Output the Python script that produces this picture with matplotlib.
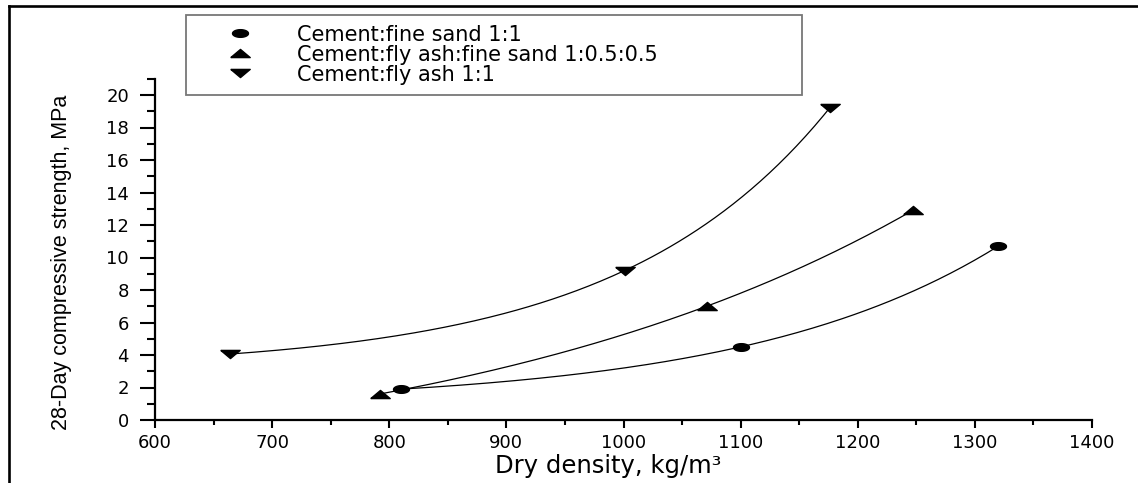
import matplotlib
matplotlib.use("Agg")
import matplotlib.pyplot as plt
import numpy as np
from matplotlib.lines import Line2D
from matplotlib.ticker import MultipleLocator

# data
sand_density = [810, 1100, 1320]
sand_strength = [1.9, 4.5, 10.7]

flyash_sand_density = [792, 1071, 1247]
flyash_sand_strength = [1.6, 7.0, 12.9]

flyash_density = [664, 1001, 1176]
flyash_strength = [4.06, 9.2, 19.2]

series_labels = ["Cement:fine sand 1:1",
                 "Cement:fly ash:fine sand 1:0.5:0.5",
                 "Cement:fly ash 1:1"]

x_ticks = [600, 700, 800, 900, 1000, 1100, 1200, 1300, 1400]
y_ticks = [0, 2, 4, 6, 8, 10, 12, 14, 16, 18, 20]

W, H = 1138, 483


def exp_growth_fit(x, y):
    """y = y0 + A*exp(b*x) through three points (solve b by bisection)."""
    x = np.asarray(x, float)
    y = np.asarray(y, float)
    target = (y[2] - y[1]) / (y[1] - y[0])

    def ratio(b):
        e = np.exp(b * (x - x[0]))
        return (e[2] - e[1]) / (e[1] - e[0])

    lo, hi = 1e-7, 0.05
    for _ in range(200):
        mid = 0.5 * (lo + hi)
        if ratio(mid) < target:
            lo = mid
        else:
            hi = mid
    b = 0.5 * (lo + hi)
    e = np.exp(b * (x - x[0]))
    A = (y[1] - y[0]) / (e[1] - e[0])
    y0 = y[0] - A * e[0]
    xs = np.linspace(x.min(), x.max(), 200)
    return xs, y0 + A * np.exp(b * (xs - x[0]))


# flattened markers (the original picture is stretched sideways)
t = np.linspace(0, 2 * np.pi, 41)
ellipse = list(zip(np.cos(t), 0.48 * np.sin(t)))
tri_up = [(-1, -0.42), (1, -0.42), (0, 0.42), (-1, -0.42)]
tri_down = [(-1, 0.42), (1, 0.42), (0, -0.42), (-1, 0.42)]

plt.rcParams['font.family'] = ['DejaVu Sans']

fig = plt.figure(figsize=(W / 100, H / 100), dpi=100)
ax = fig.add_axes([155 / W, 63 / H, 937 / W, 341.25 / H])

series = [
    (sand_density, sand_strength, ellipse, 11.5),
    (flyash_sand_density, flyash_sand_strength, tri_up, 14),
    (flyash_density, flyash_strength, tri_down, 14),
]

handles = []
for (xd, yd, mk, ms), lab in zip(series, series_labels):
    xs, ys = exp_growth_fit(xd, yd)
    ax.plot(xs, ys, color='black', lw=0.9)
    h, = ax.plot(xd, yd, linestyle='none', marker=mk, ms=ms, color='black',
                 label=lab, clip_on=False)
    handles.append(h)

ax.set_xlim(600, 1400)
ax.set_ylim(0, 21)
ax.set_xticks(x_ticks)
ax.set_yticks(y_ticks)
ax.xaxis.set_minor_locator(MultipleLocator(50))
ax.yaxis.set_minor_locator(MultipleLocator(1))

for side in ['top', 'right']:
    ax.spines[side].set_visible(False)
for side in ['left', 'bottom']:
    ax.spines[side].set_linewidth(1.6)

ax.tick_params(axis='x', which='major', direction='out', length=5.8, width=1.5,
               pad=4, labelsize=13)
ax.tick_params(axis='x', which='minor', direction='out', length=3.3, width=1.5)
ax.tick_params(axis='y', which='major', direction='out', length=10.8, width=1.5,
               pad=8, labelsize=13)
ax.tick_params(axis='y', which='minor', direction='out', length=5.8, width=1.5)

ax.set_xlabel("Dry density, kg/m³", fontsize=17.5)
ax.xaxis.set_label_coords(0.4835, -0.1)
ax.set_ylabel("28-Day compressive strength, MPa", fontsize=15.5,
              family=['Liberation Sans Narrow', 'Liberation Sans'])
ax.yaxis.set_label_coords(-0.0886, 0.463)

leg = ax.legend(handles=handles, loc='upper left',
                bbox_to_anchor=(186 / W, 1 - 95 / H, 616 / W, 80 / H),
                bbox_transform=fig.transFigure, mode='expand',
                borderaxespad=0, fontsize=15, fancybox=False,
                frameon=True, handlelength=4.25, handletextpad=0.62,
                borderpad=0.47, labelspacing=0.0, numpoints=1)
leg.get_frame().set_edgecolor('#555555')
leg.get_frame().set_linewidth(1.3)

# outer frame of the picture (top and left edges)
fig.add_artist(Line2D([8.7 / W, 8.7 / W], [0, 1 - 6 / H],
                      transform=fig.transFigure, color='black', lw=1.9))
fig.add_artist(Line2D([8.7 / W, 1], [1 - 6 / H, 1 - 6 / H],
                      transform=fig.transFigure, color='black', lw=1.9))

fig.savefig("out.png", dpi=100)
